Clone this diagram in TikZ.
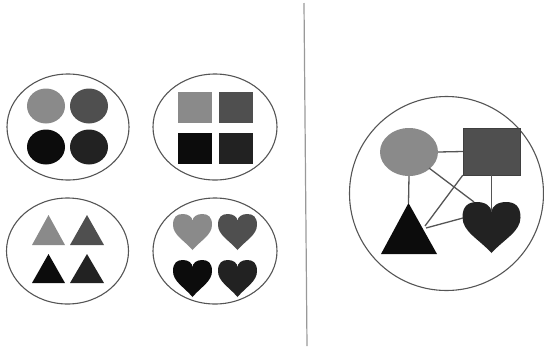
\documentclass[tikz,border=0pt]{standalone}
\usetikzlibrary{shapes.geometric}
\definecolor{gA}{HTML}{8A8A8A}
\definecolor{gB}{HTML}{4F4F4F}
\definecolor{gC}{HTML}{0C0C0C}
\definecolor{gD}{HTML}{222222}
\definecolor{lineg}{HTML}{555555}
\tikzset{
  group/.style={draw=lineg, line width=1.1pt},
  conn/.style={draw=lineg, line width=1.3pt},
  pics/heart/.style args={#1/#2/#3}{code={
    \fill[#3] (0,#2) .. controls (-0.45*#1,0.72*#2) and (-#1,0.58*#2) .. (-#1,0.3*#2)
      .. controls (-#1,0.08*#2) and (-0.8*#1,0) .. (-0.5*#1,0)
      .. controls (-0.22*#1,0) and (0,0.08*#2) .. (0,0.2*#2)
      .. controls (0,0.08*#2) and (0.22*#1,0) .. (0.5*#1,0)
      .. controls (0.8*#1,0) and (#1,0.08*#2) .. (#1,0.3*#2)
      .. controls (#1,0.58*#2) and (0.45*#1,0.72*#2) .. (0,#2) -- cycle;
  }}
}
\begin{document}
\begin{tikzpicture}[x=1pt,y=-1pt]
\useasboundingbox (0,0) rectangle (544,346);
% divider
\draw[draw=gray!80, line width=1.2pt] (304,3) coordinate (d1) -- (307,346) coordinate (d2);
% group ellipses
\draw[group] (68,127) ellipse [x radius=61, y radius=53];
\draw[group] (215,127) ellipse [x radius=62, y radius=53];
\draw[group] (67.5,251) ellipse [x radius=61, y radius=53];
\draw[group] (215,251) ellipse [x radius=62, y radius=53];
% circles
\fill[gA] (46,106) ellipse [x radius=19, y radius=17.5];
\fill[gB] (89,106) ellipse [x radius=19, y radius=17.5];
\fill[gC] (46,147) ellipse [x radius=19, y radius=17.5];
\fill[gD] (89,147) ellipse [x radius=19, y radius=17.5];
% squares
\fill[gA] (178,92) rectangle (212,123);
\fill[gB] (219,92) rectangle (253,123);
\fill[gC] (178,133) rectangle (212,164);
\fill[gD] (219,133) rectangle (253,164);
% triangles
\fill[gA] (32,245) -- (48.5,215) -- (65,245) -- cycle;
\fill[gB] (70,245) -- (87,215) -- (104,245) -- cycle;
\fill[gC] (32,283) -- (48.5,254) -- (65,283) -- cycle;
\fill[gD] (70,283) -- (87,254) -- (104,283) -- cycle;
% hearts
\pic at (192.5,214) {heart={19.5/36/gA}};
\pic at (237.5,214) {heart={19.5/36/gB}};
\pic at (192.5,260) {heart={19.5/37/gC}};
\pic at (237.5,260) {heart={19.5/37/gD}};
% right group
\draw[group] (446.5,193.5) circle [radius=97];
\node[ellipse, fill=gA, minimum width=58pt, minimum height=48pt, inner sep=0pt] (E) at (409,152) {};
\node[rectangle, fill=gB, draw=gB!80!black, minimum width=57pt, minimum height=47pt, inner sep=0pt] (S) at (491.5,151.5) {};
\fill[gC] (381,254) -- (408.5,203) coordinate (Ttop) -- (437,254) -- cycle;
\coordinate (Tr) at (425,226);
\coordinate (Tr2) at (426,228);
\pic at (491.5,202) {heart={29/51/gD}};
\coordinate (Hc) at (491.5,211);
\coordinate (Hl) at (463,218);
\coordinate (Htl) at (474,202);
\coordinate (Ebr) at (429,168);
% connectors
\draw[conn] (E.east) -- (S.west);
\draw[conn] (E.south) -- (Ttop);
\draw[conn] (Ebr) -- (Htl);
\draw[conn] (S.south west) -- (Tr);
\draw[conn] (S.south) -- (Hc);
\draw[conn] (Tr2) -- (Hl);
\end{tikzpicture}
\end{document}
